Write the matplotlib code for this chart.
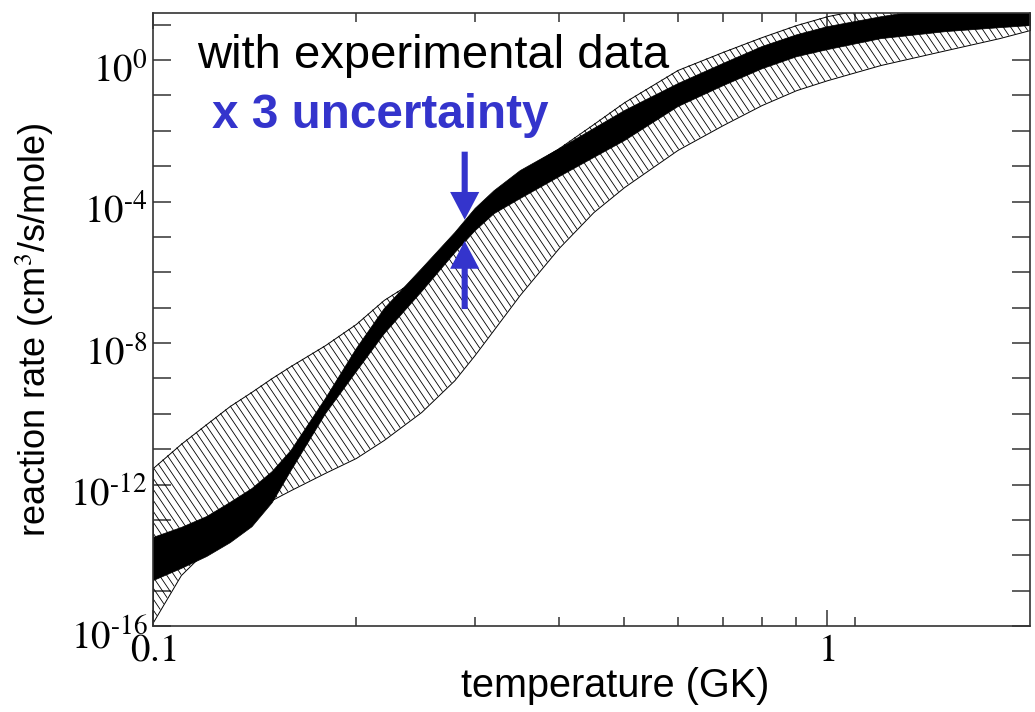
import numpy as np
import matplotlib
matplotlib.use("Agg")
import matplotlib.pyplot as plt
from matplotlib.ticker import FixedLocator, NullFormatter, NullLocator
from matplotlib.collections import LineCollection
from matplotlib.transforms import IdentityTransform, ScaledTranslation

# temperature grid (GK)
temp = [0.1, 0.11, 0.12, 0.13, 0.14, 0.15, 0.16, 0.18, 0.2, 0.22, 0.25, 0.28, 0.3,
        0.32, 0.35, 0.4, 0.45, 0.5, 0.6, 0.7, 0.8, 0.9, 1.0, 1.2, 1.5, 1.8, 2.0]

# log10 of the rate, band constrained by experimental data (x3 uncertainty)
exp_hi = [-13.48, -13.20, -12.89, -12.49, -12.10, -11.62, -11.02, -9.55, -8.14, -7.01,
          -5.88, -4.86, -4.18, -3.68, -3.11, -2.49, -1.92, -1.41, -0.65, -0.08, 0.40,
          0.73, 0.96, 1.24, 1.53, 1.70, 1.78]
exp_lo = [-14.70, -14.36, -14.02, -13.63, -13.18, -12.50, -11.59, -9.98, -8.79, -7.72,
          -6.53, -5.43, -4.81, -4.33, -3.90, -3.28, -2.74, -2.26, -1.30, -0.71, -0.23,
          0.11, 0.31, 0.62, 0.82, 0.93, 0.99]

# log10 of the rate, previous estimate without the data
old_hi = [-11.53, -10.85, -10.29, -9.78, -9.38, -8.99, -8.65, -8.06, -7.46, -6.78,
          -6.11, -5.20, -4.44, -3.79, -3.17, -2.49, -1.81, -1.19, -0.28, 0.23, 0.65,
          0.99, 1.24, 1.55, 1.92, 2.20, 2.32]
old_lo = [-15.89, -14.56, -13.85, -13.34, -12.86, -12.44, -12.16, -11.67, -11.25, -10.74,
          -9.95, -9.05, -8.34, -7.63, -6.64, -5.31, -4.30, -3.59, -2.54, -1.84, -1.27,
          -0.85, -0.57, -0.14, 0.28, 0.62, 0.85]

y_exponents = list(range(-16, 2))
y_labelled = [-16, -12, -8, -4, 0]
x_minor = [0.2, 0.3, 0.4, 0.5, 0.6, 0.7, 0.8, 0.9, 1.1]
t_arrow = 0.29

blue = "#3434cc"

plt.rcParams["mathtext.fontset"] = "stix"
plt.rcParams["font.family"] = ["Liberation Sans", "DejaVu Sans"]


def decade_label(k):
    if k not in y_labelled:
        return ""
    if k < 0:
        return r"$10^{\text{-}%d}$" % -k
    return r"$10^{%d}$" % k


fig = plt.figure(figsize=(10.35, 7.12), dpi=100)
ax = fig.add_axes([0.1478, 0.1208, 0.8474, 0.8609])

t = np.array(temp)
band = ax.fill_between(t, 10 ** np.array(old_lo), 10 ** np.array(old_hi),
                       facecolor="white", edgecolor="black", linewidth=0.7)
ax.fill_between(t, 10 ** np.array(exp_lo), 10 ** np.array(exp_hi), facecolor="black",
                edgecolor="black", linewidth=0.5, zorder=3)

ax.set_xscale("log")
ax.set_yscale("log")
ax.set_xlim(0.1, 2.0)
ax.set_ylim(1e-16, 10 ** 1.33)

# steep diagonal hatching inside the wide band, drawn in pixel space
W, H = fig.bbox.width, fig.bbox.height
slant = H / np.tan(np.radians(56))
starts = np.arange(-slant, W + slant, 7.4)
segs = [[(c, H), (c + slant, 0)] for c in starts]
hatch = LineCollection(segs, colors="black", linewidths=0.6,
                       transform=IdentityTransform(), zorder=2)
ax.add_collection(hatch, autolim=False)
hatch.set_clip_path(band.get_paths()[0], ax.transData)

# x ticks
ax.xaxis.set_major_locator(FixedLocator([0.1, 1.0]))
ax.set_xticklabels([r"$0.1$", r"$1$"])
ax.xaxis.set_minor_locator(FixedLocator(x_minor))
ax.xaxis.set_minor_formatter(NullFormatter())

# y ticks, one per decade, labelled every fourth
ax.set_yticks([10.0 ** k for k in y_exponents])
ax.set_yticklabels([decade_label(k) for k in y_exponents])
ax.yaxis.set_minor_locator(NullLocator())

ax.tick_params(axis="both", which="both", direction="in", top=True, right=True,
               width=1.1, color="#333333")
ax.tick_params(axis="x", which="major", length=11.5, labelsize=28, pad=5)
ax.tick_params(axis="x", which="minor", length=6.5)
ax.tick_params(axis="y", which="major", length=13, labelsize=28, pad=4)
shift = ScaledTranslation(0, -5 / 72, fig.dpi_scale_trans)
for lab in ax.get_yticklabels():
    lab.set_transform(lab.get_transform() + shift)
for s in ax.spines.values():
    s.set_linewidth(1.2)
    s.set_color("#333333")
    s.set_zorder(4)

fig.text(35 / 1035, 1 - 330 / 712, "reaction rate (cm$^3$/s/mole)", rotation=90,
         ha="center", va="center", fontsize=26)
fig.text(615 / 1035, 1 - 686 / 712, "temperature (GK)", ha="center", va="center",
         fontsize=28.5)

ax.text(0.050, 0.910, "with experimental data", transform=ax.transAxes, fontsize=34,
        va="baseline", ha="left", zorder=5)
ax.text(0.067, 0.812, "x 3 uncertainty", transform=ax.transAxes, fontsize=34.3,
        fontweight="bold", color=blue, va="baseline", ha="left", zorder=5)

# arrows pointing at the edges of the constrained band
lt = np.log10(t)
la = np.log10(t_arrow)
top = 10 ** np.interp(la, lt, exp_hi)
bot = 10 ** np.interp(la, lt, exp_lo)
arrow = dict(arrowstyle="simple,head_length=1.0,head_width=1.05,tail_width=0.22",
             fc=blue, ec="none", shrinkA=0, shrinkB=0, mutation_scale=20)
ax.annotate("", xy=(t_arrow, top), xytext=(0, 49), textcoords="offset points",
            xycoords="data", arrowprops=arrow, zorder=5)
ax.annotate("", xy=(t_arrow, bot), xytext=(0, -49), textcoords="offset points",
            xycoords="data", arrowprops=arrow, zorder=5)

fig.savefig("out.png", dpi=100)
